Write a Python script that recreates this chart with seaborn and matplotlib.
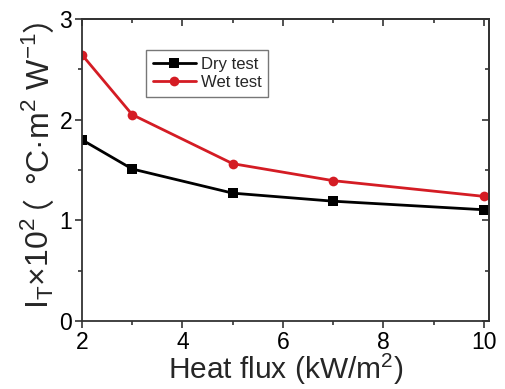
import matplotlib
matplotlib.use("Agg")
import matplotlib.pyplot as plt
from matplotlib.ticker import MultipleLocator
import seaborn as sns
import pandas as pd

heat_flux = [2, 3, 5, 7, 10]
dry_test = [1.80, 1.51, 1.27, 1.19, 1.105]
wet_test = [2.645, 2.05, 1.563, 1.394, 1.238]
series_names = ["Dry test", "Wet test"]
x_ticks = [2, 4, 6, 8, 10]
y_ticks = [0, 1, 2, 3]

sns.set_theme(style="white")
plt.rcParams['font.family'] = ['Liberation Sans', 'Noto Sans CJK SC', 'DejaVu Sans']
plt.rcParams['mathtext.fontset'] = 'custom'
plt.rcParams['mathtext.rm'] = 'Liberation Sans'

df = pd.DataFrame({
    "flux": heat_flux * 2,
    "val": dry_test + wet_test,
    "test": [series_names[0]] * len(heat_flux) + [series_names[1]] * len(heat_flux),
})

fig = plt.figure(figsize=(5.06, 3.89), dpi=100)
ax = fig.add_axes([0.162, 0.175, 0.804, 0.776])

colors = {"Dry test": "#000000", "Wet test": "#d41c24"}
markers = {"Dry test": "s", "Wet test": "o"}
for name in series_names:
    sub = df[df["test"] == name]
    sns.lineplot(data=sub, x="flux", y="val", ax=ax, color=colors[name],
                 marker=markers[name], markersize=7, markeredgewidth=0,
                 linewidth=2, label=name)

ax.set_xlim(2, 10.1)
ax.set_ylim(0, 3)
ax.set_xticks(x_ticks)
ax.set_yticks(y_ticks)
ax.xaxis.set_minor_locator(MultipleLocator(1))
ax.yaxis.set_minor_locator(MultipleLocator(0.5))

spine_col = "#333333"
for s in ax.spines.values():
    s.set_visible(True)
    s.set_color(spine_col)
    s.set_linewidth(1.3)

ax.tick_params(which='both', direction='out', color=spine_col, width=1.2,
               bottom=True, left=True, top=False, right=False,
               labelsize=16.5, labelcolor='black', pad=2)
ax.tick_params(which='major', length=5)
ax.tick_params(which='minor', length=3)

secx = ax.secondary_xaxis('top')
secx.set_xticks(x_ticks)
secx.xaxis.set_minor_locator(MultipleLocator(1))
secx.tick_params(which='both', direction='in', labeltop=False, color=spine_col, width=1.2)
secx.tick_params(which='major', length=5)
secx.tick_params(which='minor', length=3)
secx.spines['top'].set_color(spine_col)
secx.spines['top'].set_linewidth(1.3)

secy = ax.secondary_yaxis('right')
secy.set_yticks(y_ticks)
secy.yaxis.set_minor_locator(MultipleLocator(0.5))
secy.tick_params(which='both', direction='in', labelright=False, color=spine_col, width=1.2)
secy.tick_params(which='major', length=5)
secy.tick_params(which='minor', length=3)
secy.spines['right'].set_color(spine_col)
secy.spines['right'].set_linewidth(1.3)

ax.set_xlabel("Heat flux (kW/m$^\\mathregular{2}$)", fontsize=21.5, labelpad=-2)
ax.set_ylabel("")

leg = ax.legend(loc='upper left', bbox_to_anchor=(0.157, 0.897), borderaxespad=0,
                fontsize=12, frameon=True, fancybox=False, handlelength=2.6,
                handletextpad=0.3, borderpad=0.4, labelspacing=0.2)
leg.get_frame().set_edgecolor("#555555")
leg.get_frame().set_linewidth(1.0)

# y label built from pieces (full-width parentheses need a CJK font)
pieces = [
    ("I$_\\mathregular{T}$×10$^\\mathregular{2}$", 'Liberation Sans', 0.0, 0.0),
    ("（", 'Noto Sans CJK SC', -0.62, 0.3),
    ("°C·m$^\\mathregular{2}$ W$^\\mathregular{-1}$", 'Liberation Sans', 0.0, 0.0),
    ("）", 'Noto Sans CJK SC', 0.0, 0.0),
]
ylab_size = 23
em = ylab_size * 100 / 72
renderer = fig.canvas.get_renderer()
W, H = fig.bbox.width, fig.bbox.height
base_x = 49.0          # pixel x of the rotated baseline
cur_y = 389 - 309.0    # pixel y (from bottom) where the label starts
for txt, fam, dx, dy in pieces:
    probe = fig.text(0, 0.5, txt, family=fam, fontsize=ylab_size,
                     ha='left', va='baseline')
    bb = probe.get_window_extent(renderer)
    probe.remove()
    w = bb.width
    c = (bb.y0 + bb.y1) / 2 - 0.5 * H
    fig.text((base_x - c + dx * em) / W, (cur_y + w / 2 + dy * em) / H, txt,
             family=fam, fontsize=ylab_size, rotation=90, ha='center', va='center')
    cur_y += w

fig.savefig("out.png", dpi=100)
